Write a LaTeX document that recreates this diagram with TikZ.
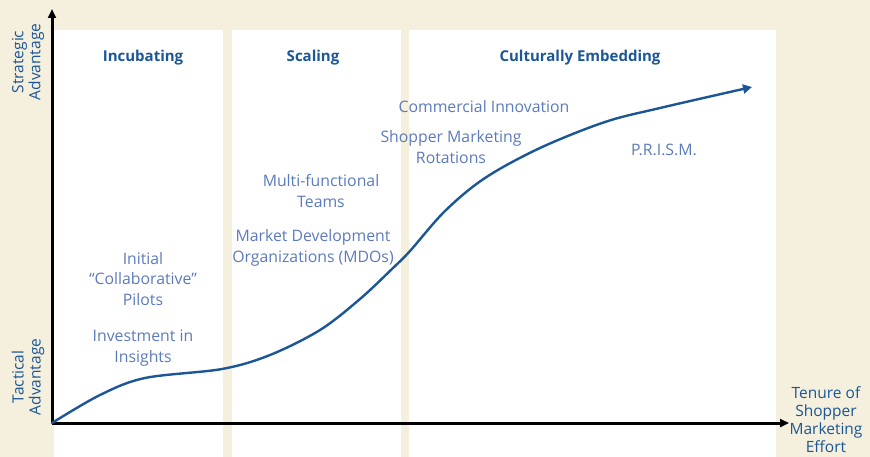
\documentclass[tikz,border=0pt]{standalone}
\usepackage{fontspec}
\setmainfont{Open Sans}
\usetikzlibrary{arrows.meta}
\definecolor{beige}{HTML}{F5EFDD}
\definecolor{hdblue}{HTML}{1B5697}
\definecolor{itblue}{HTML}{5C7BBD}
\definecolor{curveblue}{HTML}{1B5697}
\tikzset{
  panel/.style={fill=white, draw=none},
  header/.style={font=\fontsize{15}{18}\selectfont\bfseries, text=hdblue, align=center, inner sep=0pt},
  item/.style={font=\fontsize{15.8}{20.5}\selectfont, text=itblue, align=center, inner sep=0pt},
  axlabel/.style={font=\fontsize{15.5}{17}\selectfont, text=hdblue, align=center, inner sep=0pt},
  axis/.style={line width=3pt, -{Triangle[length=9pt,width=8pt]}},
}
\begin{document}
\begin{tikzpicture}[x=1pt,y=-1pt]
\fill[beige] (0,0) rectangle (870,457);
\useasboundingbox (0,0) rectangle (870,457);
\fill[panel] (54,30) rectangle (223,457);
\fill[panel] (232,30) rectangle (401,457);
\fill[panel] (409,30) rectangle (776,457);
\coordinate (o) at (52,423);
\coordinate (ytop) at (52,9);
\coordinate (xend) at (789,423);
\draw[axis] (o) -- (ytop);
\draw[axis] (o) -- (xend);
\node[header] (h1) at (143,58) {Incubating};
\node[header] (h2) at (313,58) {Scaling};
\node[header] (h3) at (580,58) {Culturally Embedding};
\node[axlabel, rotate=90] (ys) at (28,62) {Strategic\\Advantage};
\node[axlabel, rotate=90] (yt) at (28,377) {Tactical\\Advantage};
\node[axlabel, font=\fontsize{15.5}{18}\selectfont] (xl) at (826,420) {Tenure of\\Shopper\\Marketing\\Effort};
\node[item] (i1) at (143,279) {Initial\\“Collaborative”\\Pilots};
\node[item] (i2) at (143,348) {Investment in\\Insights};
\node[item] (i3) at (321,191) {Multi-functional\\Teams};
\node[item] (i4) at (313,248) {Market Development\\Organizations (MDOs)};
\node[item] (i5) at (484,107) {Commercial Innovation};
\node[item] (i6) at (451,147) {Shopper Marketing\\Rotations};
\node[item] (i7) at (664,150) {P.R.I.S.M.};
\draw[curveblue, line width=2.4pt, line cap=round, -{Triangle[length=9pt,width=9pt]}]
  plot[smooth, tension=0.55] coordinates {(52,423) (100,395) (145,378) (222,369) (270,355) (320,330) (360,299) (393,268) (410,251) (445,211) (485,178) (540,148) (605,122) (660,108) (752,87)};
\end{tikzpicture}
\end{document}
